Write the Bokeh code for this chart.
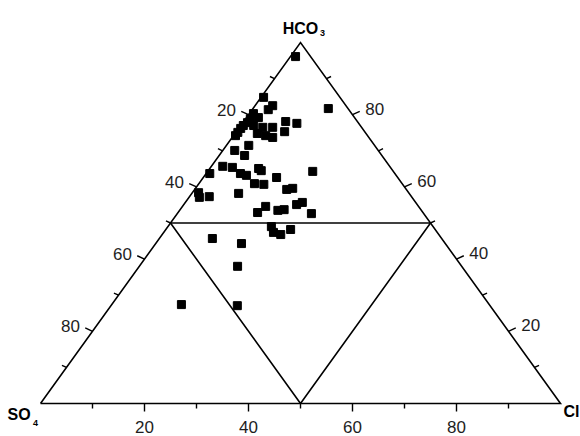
from bokeh.plotting import figure
from bokeh.models import ColumnDataSource, Range1d
from bokeh.embed import file_html
from bokeh.resources import INLINE
from bokeh.core.properties import value

# ---- data (percent) ----
hco3 = [96.1, 84.8, 82.5, 81.4, 81.7, 80.3, 79.2, 78.9, 77.8, 77.0, 76.2, 75.1, 74.2,
        77.0, 74.8, 76.5, 76.5, 73.7, 74.2, 78.1, 77.6, 75.3, 70.1, 71.5, 68.7,
        63.7, 65.7, 65.4, 63.7, 63.2, 65.1, 64.5, 62.6, 64.3, 60.9, 60.7, 59.3, 59.6,
        58.4, 57.1, 57.3, 58.2, 54.6, 52.9, 53.5, 53.7, 55.1, 55.7, 52.6,
        49.0, 47.4, 46.8, 48.2, 45.7, 44.3, 38.0, 27.4, 27.1]
cl = [1.0, 0.5, 3.4, 3.1, 14.5, 0.8, 2.3, 0.9, 0.9, 0.5, 0.4, 0.4, 0.4,
      2.5, 4.3, 4.5, 6.4, 7.8, 6.2, 8.1, 10.5, 9.3, 2.3, 4.3, 4.9,
      0.7, 2.2, 4.2, 6.6, 8.0, 9.4, 10.2, 14.1, 20.2, 10.7, 12.6, 17.7, 18.7,
      1.2, 2.0, 3.8, 9.0, 16.0, 15.3, 18.9, 20.0, 21.7, 22.5, 25.8,
      19.9, 21.1, 22.8, 24.0, 10.2, 16.5, 18.9, 13.4, 24.3]
so4 = [round(100 - h - c, 1) for h, c in zip(hco3, cl)]

tick_values = [10, 20, 30, 40, 50, 60, 70, 80, 90]
label_values = [20, 40, 60, 80]

# ---- layout ----
W, H = 580, 436
left_px, right_px = 40, 560     # canvas x of SO4 and Cl corners
base_px, apex_px = 403, 42      # canvas y (from top) of base and apex
xs = (right_px - left_px) / 100.0
ys = (base_px - apex_px) / 100.0

p = figure(width=W, height=H, output_backend="svg", toolbar_location=None,
           x_range=Range1d(-left_px / xs, (W - left_px) / xs),
           y_range=Range1d(-(H - base_px) / ys, base_px / ys),
           min_border=0, x_axis_location=None, y_axis_location=None,
           background_fill_color="white", border_fill_color="white")
p.grid.visible = False
p.outline_line_color = None


def tern(h, c):
    return c + h / 2.0, h


# triangle
p.line([0, 100, 50, 0], [0, 0, 100, 0], line_color="black", line_width=1.6,
       line_join="miter")
# inner subdivision
p.line([25, 75], [50, 50], line_color="black", line_width=1.6)
p.line([25, 50, 75], [50, 0, 50], line_color="black", line_width=1.6)

# ticks
nx, ny = 0.908, 0.419
tx0, ty0, tx1, ty1 = [], [], [], []
for v in tick_values:
    L = 8 if v in label_values else 5
    # bottom (Cl)
    x, y = tern(0, v)
    tx0.append(x); ty0.append(y); tx1.append(x); ty1.append(y - L / ys)
    # left (SO4): HCO3 = 100 - v, Cl = 0
    x, y = tern(100 - v, 0)
    tx0.append(x); ty0.append(y); tx1.append(x - L * nx / xs); ty1.append(y + L * ny / ys)
    # right (HCO3): HCO3 = v, Cl = 100 - v
    x, y = tern(v, 100 - v)
    tx0.append(x); ty0.append(y); tx1.append(x + L * nx / xs); ty1.append(y + L * ny / ys)
p.segment(tx0, ty0, tx1, ty1, line_color="black", line_width=1.4)

font = value("Liberation Sans")
lab_col = "#1e1e1e"
lab_size = "17px"

# bottom labels (Cl)
bx = [tern(0, v)[0] for v in label_values]
by = [-23.5 / ys] * len(label_values)
p.text(bx, by, text=[str(v) for v in label_values], text_align="center",
       text_baseline="middle", text_font=font, text_font_size=lab_size, text_color=lab_col)
# left labels (SO4)
lx = [tern(100 - v, 0)[0] - 12.5 / xs for v in label_values]
ly = [tern(100 - v, 0)[1] + 5 / ys for v in label_values]
p.text(lx, ly, text=[str(v) for v in label_values], text_align="right",
       text_baseline="middle", text_font=font, text_font_size=lab_size, text_color=lab_col)
# right labels (HCO3)
rx = [tern(v, 100 - v)[0] + 12.8 / xs for v in label_values]
ry = [tern(v, 100 - v)[1] + 6 / ys for v in label_values]
p.text(rx, ry, text=[str(v) for v in label_values], text_align="left",
       text_baseline="middle", text_font=font, text_font_size=lab_size, text_color=lab_col)

# corner titles
bold = dict(text_font=font, text_font_style="bold", text_color="black", text_baseline="middle")
ax_, ay_ = tern(100, 0)
p.text([ax_], [ay_ + 13.7 / ys], text=["HCO"], text_align="center", text_font_size="16px", **bold)
p.text([ax_ + 19.5 / xs], [ay_ + 10 / ys], text=["3"], text_align="left", text_font_size="9px", **bold)
sx_, sy_ = tern(0, 0)
p.text([sx_ - 33 / xs], [sy_ - 11 / ys], text=["SO"], text_align="left", text_font_size="16px", **bold)
p.text([sx_ - 7.5 / xs], [sy_ - 19 / ys], text=["4"], text_align="left", text_font_size="9px", **bold)
cx_, cy_ = tern(0, 100)
p.text([cx_ + 3 / xs], [cy_ - 8 / ys], text=["Cl"], text_align="left", text_font_size="16px", **bold)

# data points
pts = [tern(h, c) for h, c in zip(hco3, cl)]
src = ColumnDataSource(dict(x=[q[0] for q in pts], y=[q[1] for q in pts],
                            hco3=hco3, cl=cl, so4=so4))
p.scatter("x", "y", source=src, marker="square", size=8, fill_color="black",
          line_color="black")

open("out.html", "w").write(file_html(p, INLINE))
